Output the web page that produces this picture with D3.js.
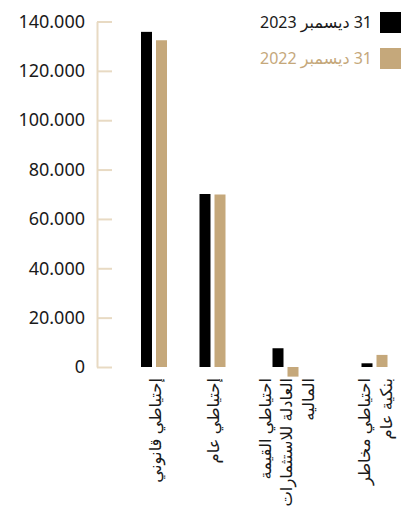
<!DOCTYPE html>
<html>
<head>
<meta charset="utf-8">
<script src="https://cdn.jsdelivr.net/npm/d3@7/dist/d3.min.js"></script>
<style>
  body { margin: 0; background: #fff; }
  svg { display: block; font-family: "Noto Sans", "Open Sans", "DejaVu Sans", sans-serif; }
</style>
</head>
<body>
<div id="chart"></div>
<script>
// data
var categories = ["legal", "general", "fairValue", "banking"];
var categoryLabels = [
  ["إحتياطي قانوني"],
  ["إحتياطي عام"],
  ["احتياطي القيمة", "العادلة للاستثمارات", "الماليه"],
  ["احتياطي مخاطر", "بنكية عام"]
];
var series = ["31 ديسمبر 2023", "31 ديسمبر 2022"];
var values2023 = [135800, 70100, 7600, 1500];
var values2022 = [132400, 69900, -3900, 4900];
var tickValues = [0, 20000, 40000, 60000, 80000, 100000, 120000, 140000];

var colors = ["#000000", "#c5a87b"];
var width = 401, height = 509;

var svg = d3.select("#chart").append("svg")
            .attr("width", width)
            .attr("height", height);

// group centres (labels of different widths make the spacing uneven)
var groupCenters = [154, 212.5, 285.5, 374.5];
var x = d3.scaleOrdinal().domain(categories).range(groupCenters);
var xInner = d3.scaleBand().domain(series).range([-13, 13]).paddingInner(4 / 15);

var y = d3.scaleLinear().domain([0, 140000]).range([367, 21.5]);

var locale = d3.formatLocale({decimal: ",", thousands: ".", grouping: [3], currency: ["", ""]});
var fmt = locale.format(",");

// y axis
var axis = svg.append("g")
  .attr("transform", "translate(97,0)")
  .call(d3.axisLeft(y)
          .tickValues(tickValues)
          .tickFormat(fmt)
          .tickSizeInner(-15)
          .tickSizeOuter(0)
          .tickPadding(12));
axis.selectAll("path, line").attr("stroke", "#e8dac3").attr("stroke-width", 2);
axis.selectAll("text")
  .attr("fill", "#1a1a1a")
  .style("font-size", "18px")
  .style("font-family", "'Noto Sans', 'Open Sans', sans-serif");

// bars
var rows = categories.map(function(c, i) {
  return {cat: c, vals: [values2023[i], values2022[i]]};
});

var groups = svg.selectAll("g.group")
  .data(rows)
  .enter()
  .append("g")
  .attr("class", "group")
  .attr("transform", function(d) { return "translate(" + x(d.cat) + ",0)"; });

groups.selectAll("rect")
  .data(function(d) {
    return d.vals.map(function(v, j) { return {s: series[j], v: v, j: j}; });
  })
  .enter()
  .append("rect")
  .attr("x", function(d) { return xInner(d.s); })
  .attr("width", xInner.bandwidth())
  .attr("y", function(d) { return Math.min(y(d.v), y(0)); })
  .attr("height", function(d) { return Math.abs(y(d.v) - y(0)); })
  .attr("fill", function(d) { return colors[d.j]; });

// category labels, rotated, one text per line
var lineH = 21.5;
categories.forEach(function(c, i) {
  var lines = categoryLabels[i];
  lines.forEach(function(t, k) {
    var off = (k - (lines.length - 1) / 2) * lineH;
    svg.append("text")
      .attr("transform", "translate(" + (x(c) + off) + ",378) rotate(-90)")
      .attr("direction", "rtl")
      .attr("text-anchor", "start")
      .attr("dominant-baseline", "central")
      .attr("fill", "#1a1a1a")
      .style("font-size", "16.4px")
      .text(t);
  });
});

// legend
var legend = svg.selectAll("g.legend")
  .data(series)
  .enter()
  .append("g")
  .attr("class", "legend")
  .attr("transform", function(d, i) { return "translate(0," + (12 + i * 36) + ")"; });

legend.append("rect")
  .attr("x", 380)
  .attr("width", 21)
  .attr("height", 21)
  .attr("fill", function(d, i) { return colors[i]; });

legend.append("text")
  .attr("x", 372)
  .attr("y", 16)
  .attr("direction", "rtl")
  .attr("text-anchor", "start")
  .attr("fill", function(d, i) { return i === 0 ? "#1a1a1a" : colors[1]; })
  .style("font-size", "16px")
  .text(function(d) { return d; });
</script>
</body>
</html>
